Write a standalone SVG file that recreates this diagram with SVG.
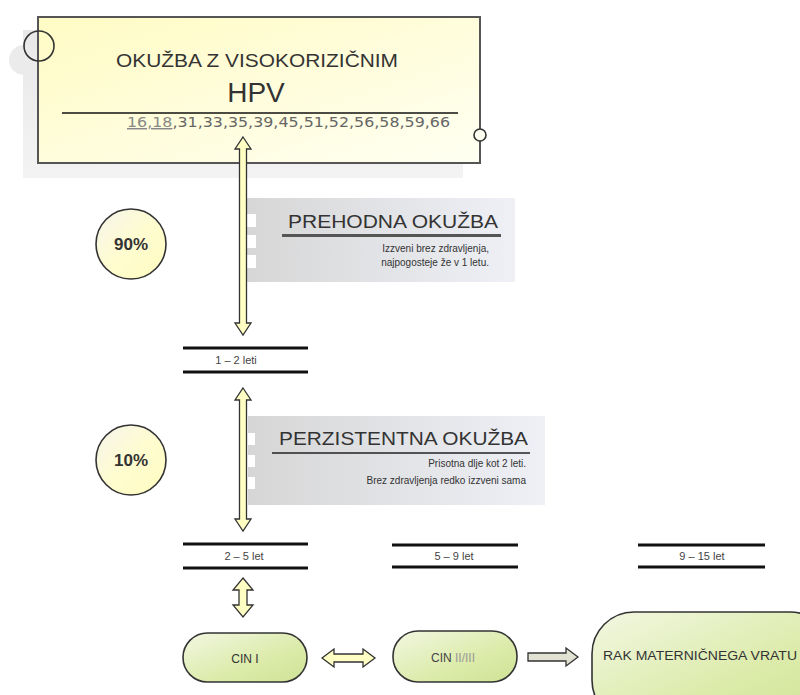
<svg xmlns="http://www.w3.org/2000/svg" width="800" height="695" viewBox="0 0 800 695">
<defs>
<linearGradient id="gBox" x1="0" y1="0" x2="1" y2="1">
<stop offset="0" stop-color="#fffbc4"/><stop offset="1" stop-color="#fffff2"/>
</linearGradient>
<linearGradient id="gCirc" x1="0" y1="0" x2="1" y2="1">
<stop offset="0" stop-color="#f4f4ec"/><stop offset="0.5" stop-color="#fffcd0"/><stop offset="1" stop-color="#fffcc0"/>
</linearGradient>
<linearGradient id="gPill" x1="0" y1="0" x2="1" y2="1">
<stop offset="0" stop-color="#f2f7e2"/><stop offset="0.6" stop-color="#dcebaa"/><stop offset="1" stop-color="#cfe395"/>
</linearGradient>
<linearGradient id="gPanel" x1="0" y1="0" x2="1" y2="0">
<stop offset="0" stop-color="#d6d6d6"/><stop offset="1" stop-color="#eef0f6"/>
</linearGradient>
<linearGradient id="gShadow" x1="0" y1="0" x2="0" y2="1">
<stop offset="0" stop-color="#e8e8e8"/><stop offset="1" stop-color="#f3f3f3"/>
</linearGradient>
</defs>
<style>
text{font-family:"Liberation Sans",Arial,sans-serif;fill:#333}
.arrow{fill:#ffffc4;stroke:#333;stroke-width:1.3;stroke-linejoin:miter}
.garrow{fill:#e2e2d2;stroke:#333;stroke-width:1.3}
.circ{fill:url(#gCirc);stroke:#333;stroke-width:1.6}
.pill{fill:url(#gPill);stroke:#333;stroke-width:1.6}
.bar{stroke:#111;stroke-width:3}
.yr{font-size:11px;fill:#444;text-anchor:middle}
.sub{font-size:10px;text-anchor:end;fill:#333}
.title{font-size:19px;fill:#333}
.pct{font-size:17px;font-weight:bold;text-anchor:middle;fill:#333}
.wsq{fill:#ffffff}
</style>

<g id="top-box">
<rect x="23" y="30" width="440" height="148" fill="url(#gShadow)"/>
<circle cx="24" cy="60" r="15" fill="#ebebeb"/>
<rect x="38" y="17" width="442" height="146" fill="url(#gBox)" stroke="#555" stroke-width="2"/>
<circle cx="39" cy="46" r="15" fill="none" stroke="#333" stroke-width="1.6"/>
<circle cx="480" cy="135" r="6" fill="#fffff2" stroke="#333" stroke-width="1.6"/>
<text x="257" y="67" font-size="19" text-anchor="middle" textLength="282" lengthAdjust="spacingAndGlyphs">OKUŽBA Z VISOKORIZIČNIM</text>
<text x="256" y="102" font-size="28" text-anchor="middle">HPV</text>
<line x1="62" y1="113" x2="458" y2="113" stroke="#111" stroke-width="1.6"/>
<text x="127" y="127" font-size="14.5" style="font-family:'DejaVu Sans',Verdana,sans-serif" textLength="323" lengthAdjust="spacingAndGlyphs"><tspan fill="#888" text-decoration="underline">16,18</tspan><tspan fill="#666">,31,33,35,39,45,51,52,56,58,59,66</tspan></text>
</g>

<g id="panel-prehodna">
<rect x="243" y="198" width="272" height="84" fill="url(#gPanel)"/>
<rect class="wsq" x="243" y="214" width="13" height="13"/>
<rect class="wsq" x="243" y="235" width="13" height="13"/>
<rect class="wsq" x="243" y="255" width="13" height="13"/>
<text class="title" x="288" y="228" textLength="210" lengthAdjust="spacingAndGlyphs">PREHODNA OKUŽBA</text>
<line x1="282" y1="235.5" x2="501" y2="235.5" stroke="#555" stroke-width="3"/>
<text class="sub" x="489" y="252">Izzveni brez zdravljenja,</text>
<text class="sub" x="489" y="266">najpogosteje že v 1 letu.</text>
</g>

<g id="panel-perzistentna">
<rect x="248" y="416" width="297" height="89" fill="url(#gPanel)"/>
<rect class="wsq" x="240" y="433" width="15" height="12"/>
<rect class="wsq" x="240" y="455" width="15" height="12"/>
<rect class="wsq" x="240" y="477" width="15" height="12"/>
<text class="title" x="279" y="445" textLength="249" lengthAdjust="spacingAndGlyphs">PERZISTENTNA OKUŽBA</text>
<line x1="272" y1="453" x2="530" y2="453" stroke="#222" stroke-width="1.6"/>
<text class="sub" x="526" y="467">Prisotna dlje kot 2 leti.</text>
<text class="sub" x="526" y="484">Brez zdravljenja redko izzveni sama</text>
</g>

<g id="circle-90">
<circle class="circ" cx="131" cy="244" r="35"/>
<text class="pct" x="131" y="250">90%</text>
</g>
<g id="circle-10">
<circle class="circ" cx="131" cy="460" r="35"/>
<text class="pct" x="131" y="466">10%</text>
</g>

<g id="period-1-2">
<line class="bar" x1="183" y1="348" x2="308" y2="348"/>
<line class="bar" x1="183" y1="372" x2="308" y2="372"/>
<text class="yr" x="236" y="364">1 – 2 leti</text>
</g>
<g id="period-2-5">
<line class="bar" x1="183" y1="544" x2="308" y2="544"/>
<line class="bar" x1="183" y1="568" x2="308" y2="568"/>
<text class="yr" x="244" y="560">2 – 5 let</text>
</g>
<g id="period-5-9">
<line class="bar" x1="392" y1="545" x2="518" y2="545"/>
<line class="bar" x1="392" y1="567" x2="518" y2="567"/>
<text class="yr" x="454" y="560">5 – 9 let</text>
</g>
<g id="period-9-15">
<line class="bar" x1="638" y1="545" x2="765" y2="545"/>
<line class="bar" x1="638" y1="567" x2="765" y2="567"/>
<text class="yr" x="702" y="560">9 – 15 let</text>
</g>

<g id="cin1">
<rect class="pill" x="183" y="633" width="124" height="49" rx="24.5"/>
<text x="245" y="663" font-size="12" text-anchor="middle" fill="#444">CIN I</text>
</g>
<g id="cin23">
<rect class="pill" x="393" y="631" width="124" height="51" rx="25"/>
<text x="453" y="662" font-size="12" text-anchor="middle"><tspan fill="#444">CIN </tspan><tspan fill="#999">II/III</tspan></text>
</g>
<g id="rak">
<rect class="pill" x="592" y="612" width="240" height="110" rx="42"/>
<text x="603" y="660" font-size="12.5" textLength="194" lengthAdjust="spacingAndGlyphs">RAK MATERNIČNEGA VRATU</text>
</g>

<g id="connectors">
<polygon class="arrow" points="243,137 251,149 246.5,149 246.5,323 251,323 243,335 235,323 239.5,323 239.5,149 235,149"/>
<polygon class="arrow" points="243,388 251,400 246.5,400 246.5,519 251,519 243,531 235,519 239.5,519 239.5,400 235,400"/>
<polygon class="arrow" points="243,578 253,590 247,590 247,605 253,605 243,617 233,605 239,605 239,590 233,590"/>
<polygon class="arrow" points="322,658 334,649 334,654 363,654 363,649 375,658 363,667 363,662 334,662 334,667"/>
<polygon class="garrow" points="528,653 566,653 566,648 578,657 566,666 566,661 528,661"/>
</g>
</svg>
